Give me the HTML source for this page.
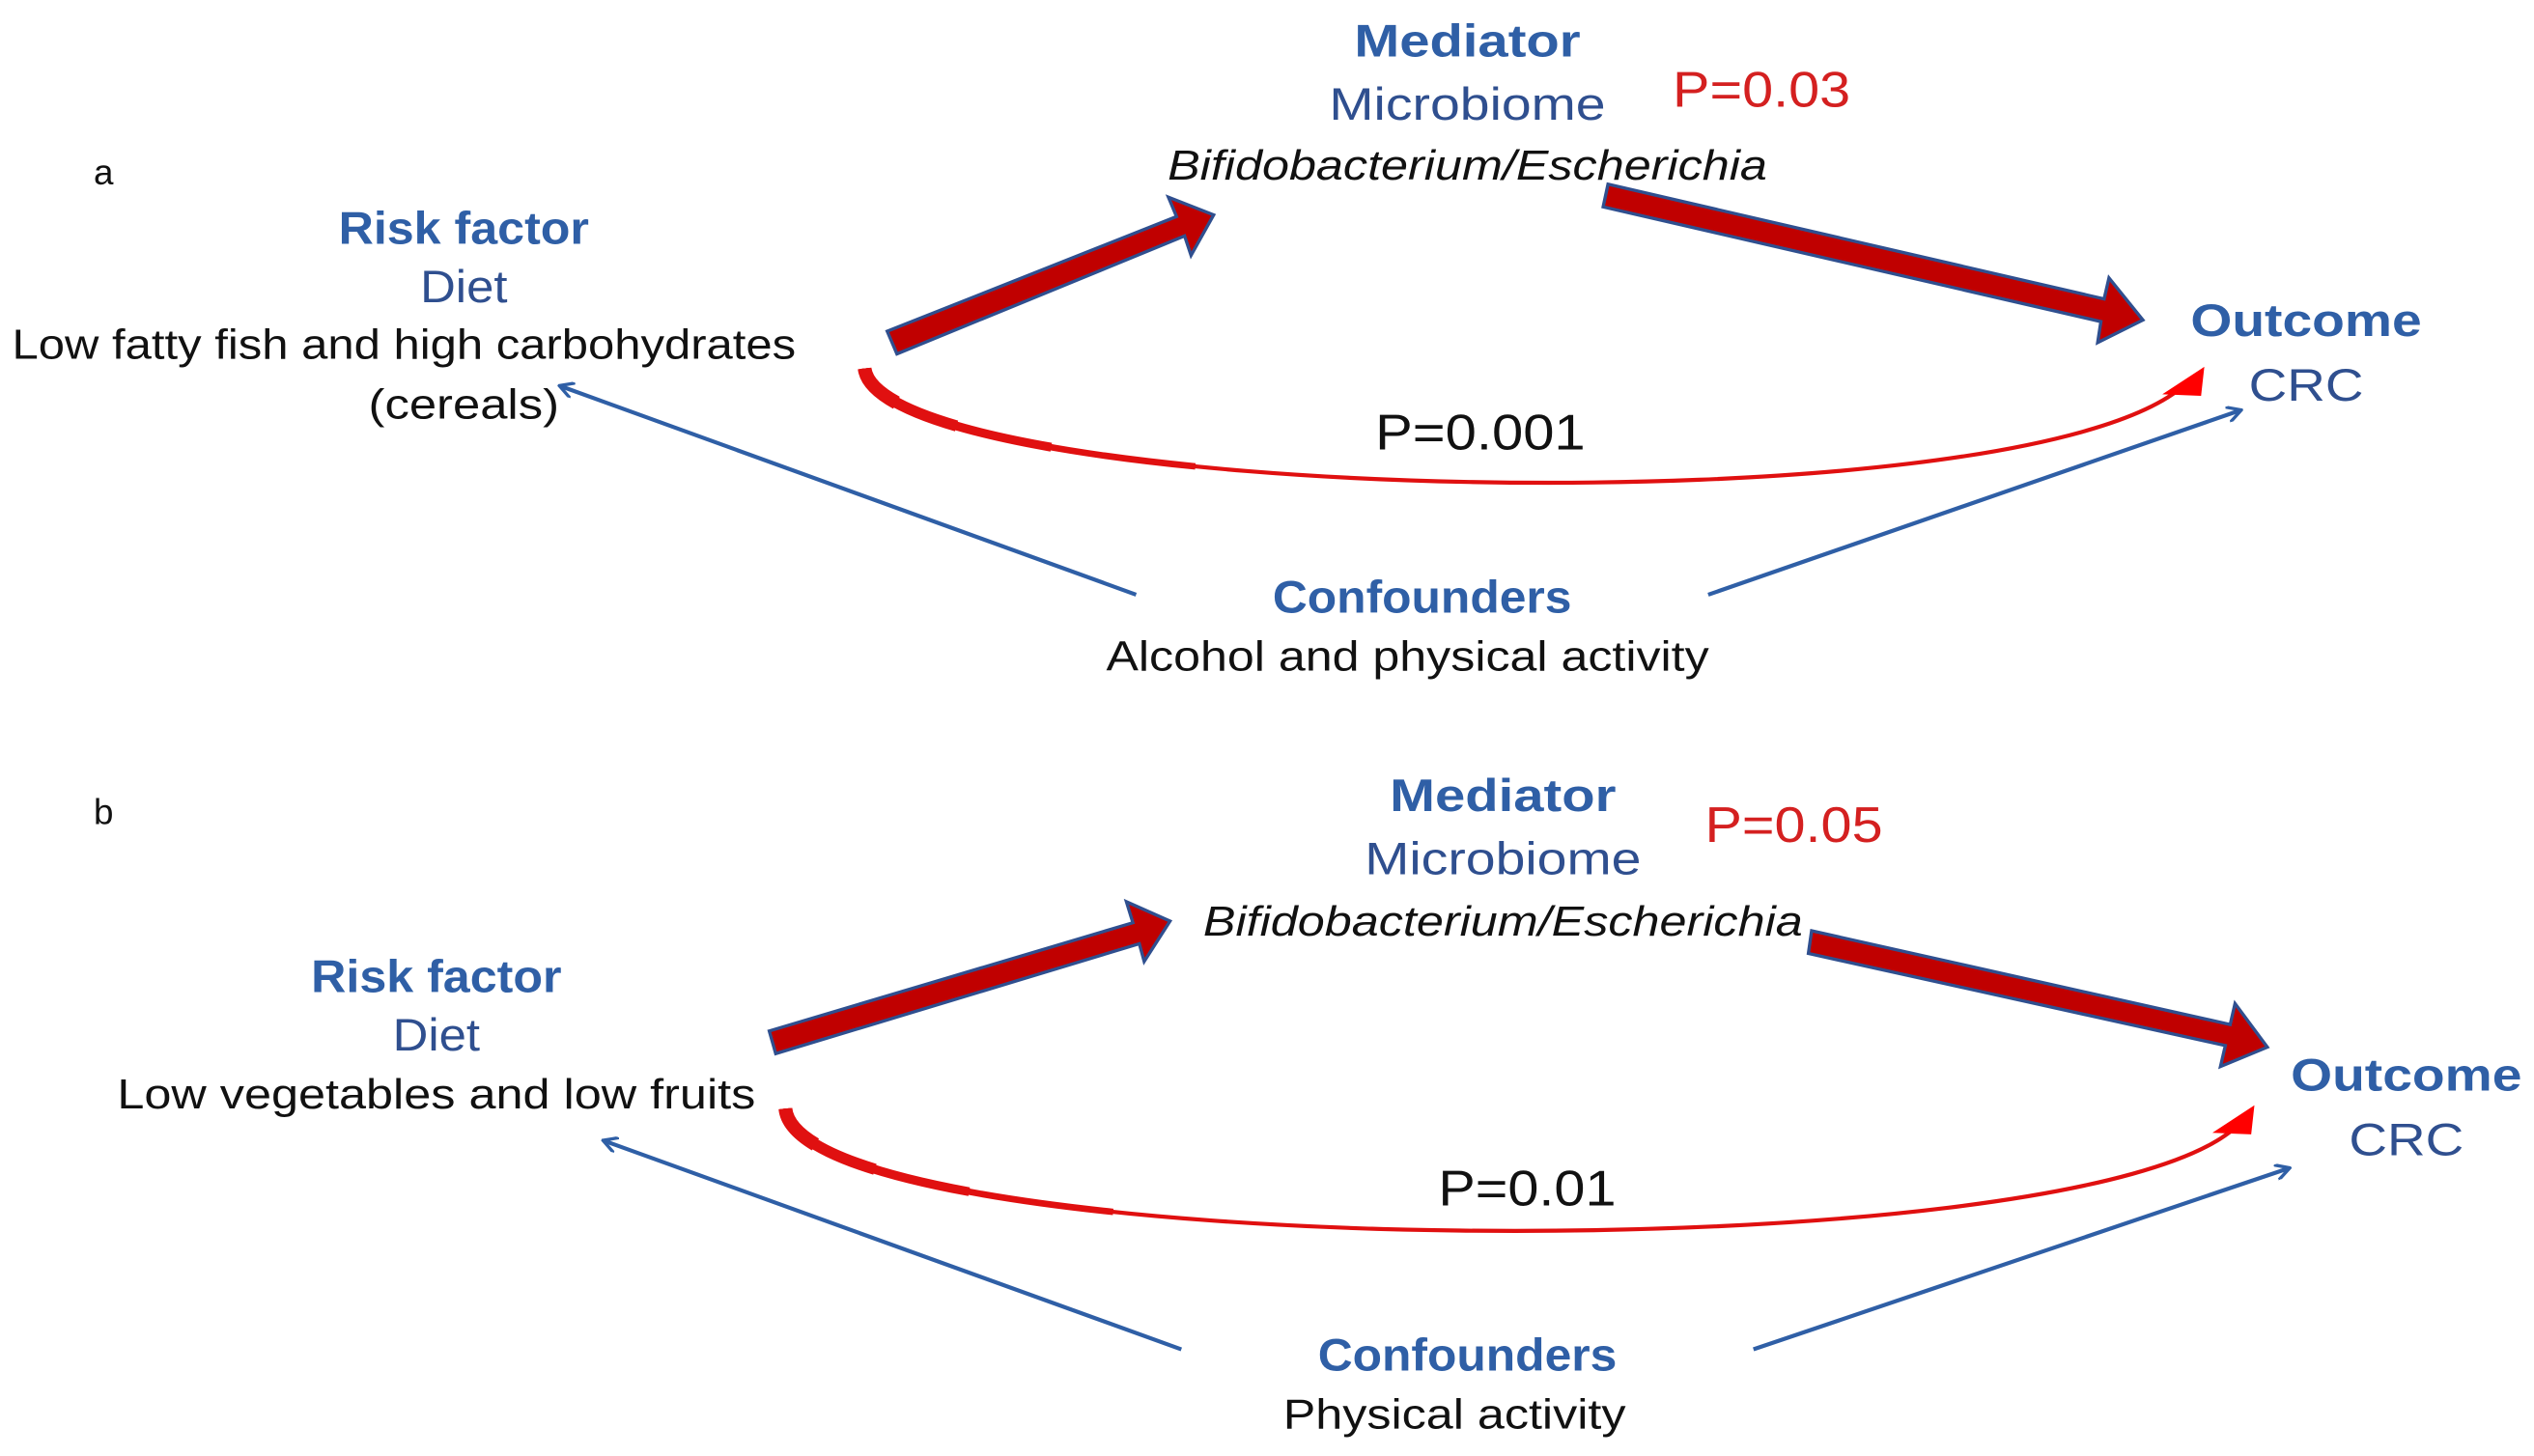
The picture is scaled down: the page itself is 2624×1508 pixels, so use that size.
<!DOCTYPE html>
<html><head><meta charset="utf-8"><style>
html,body{margin:0;padding:0;background:#fff;}
svg{display:block;}
text{font-family:"Liberation Sans",Arial,sans-serif;}
.b{fill:#2f5fa6;font-weight:bold;font-size:28px;text-anchor:middle;}
.m{fill:#2f4f8f;font-size:28px;text-anchor:middle;}
.k{fill:#111;font-size:26px;text-anchor:middle;}
.i{fill:#111;font-size:26px;font-style:italic;text-anchor:middle;}
.r{fill:#d42020;font-size:31px;}
.p{fill:#111;font-size:31px;text-anchor:middle;}
.c{fill:none;stroke:#e01010;}
</style></head><body>
<svg width="2624" height="1508" viewBox="0 0 1568 901" preserveAspectRatio="none" xmlns="http://www.w3.org/2000/svg">
<defs>
<marker id="bh" markerWidth="10" markerHeight="10" refX="8" refY="5" orient="auto" markerUnits="userSpaceOnUse" viewBox="0 0 10 10">
<path d="M0,0 L9,5 L0,10" fill="none" stroke="#2f5fa6" stroke-width="2"/></marker>
</defs>
<g id="a">
<text x="58" y="114" style="font-size:22px;fill:#111">a</text>
<text class="b" x="908" y="35" textLength="140" lengthAdjust="spacingAndGlyphs">Mediator</text>
<text class="m" x="908" y="74" textLength="171" lengthAdjust="spacingAndGlyphs">Microbiome</text>
<text class="i" x="908" y="111" textLength="371" lengthAdjust="spacingAndGlyphs">Bifidobacterium/Escherichia</text>
<text class="r" x="1035" y="66" textLength="110" lengthAdjust="spacingAndGlyphs">P=0.03</text>
<text class="b" x="287" y="151" textLength="155" lengthAdjust="spacingAndGlyphs">Risk factor</text>
<text class="m" x="287" y="187" textLength="54" lengthAdjust="spacingAndGlyphs">Diet</text>
<text class="k" x="250" y="222" textLength="485" lengthAdjust="spacingAndGlyphs">Low fatty fish and high carbohydrates</text>
<text class="k" x="287" y="259" textLength="118" lengthAdjust="spacingAndGlyphs">(cereals)</text>
<text class="b" x="1427" y="208" textLength="143" lengthAdjust="spacingAndGlyphs">Outcome</text>
<text class="m" x="1427" y="248" textLength="71" lengthAdjust="spacingAndGlyphs">CRC</text>
<text class="p" x="916" y="278" textLength="130" lengthAdjust="spacingAndGlyphs">P=0.001</text>
<text class="b" x="880" y="379" textLength="185" lengthAdjust="spacingAndGlyphs">Confounders</text>
<text class="k" x="871" y="415" textLength="373" lengthAdjust="spacingAndGlyphs">Alcohol and physical activity</text>
<polygon points="549,205 728,134 723,122 751,133 737,158 733,146 555,219" fill="#c00000" stroke="#2f4f8f" stroke-width="2"/>
<polygon points="995,114 1302,185 1305,172 1326,198 1298,212 1300,199 992,128" fill="#c00000" stroke="#2f4f8f" stroke-width="2"/>
<path class="c" d="M535,228 C545,310 1250,330 1352,238" stroke-width="2.5"/>
<path class="c" d="M535,228 C545,310 1250,330 1352,238" stroke-width="4" stroke-dasharray="220 3000"/>
<path class="c" d="M535,228 C545,310 1250,330 1352,238" stroke-width="5.5" stroke-dasharray="130 3000"/>
<path class="c" d="M535,228 C545,310 1250,330 1352,238" stroke-width="7" stroke-dasharray="70 3000"/>
<path class="c" d="M535,228 C545,310 1250,330 1352,238" stroke-width="8.5" stroke-dasharray="30 3000"/>
<polygon points="1364,227 1362,245 1338,244" fill="#f00"/>
<line x1="703" y1="368" x2="347" y2="239" stroke="#2f5fa6" stroke-width="2.5" marker-end="url(#bh)"/>
<line x1="1057" y1="368" x2="1386" y2="254" stroke="#2f5fa6" stroke-width="2.5" marker-end="url(#bh)"/>
</g>
<g id="b">
<text x="58" y="510" style="font-size:22px;fill:#111">b</text>
<text class="b" x="930" y="502" textLength="140" lengthAdjust="spacingAndGlyphs">Mediator</text>
<text class="m" x="930" y="541" textLength="171" lengthAdjust="spacingAndGlyphs">Microbiome</text>
<text class="i" x="930" y="579" textLength="371" lengthAdjust="spacingAndGlyphs">Bifidobacterium/Escherichia</text>
<text class="r" x="1055" y="521" textLength="110" lengthAdjust="spacingAndGlyphs">P=0.05</text>
<text class="b" x="270" y="614" textLength="155" lengthAdjust="spacingAndGlyphs">Risk factor</text>
<text class="m" x="270" y="650" textLength="54" lengthAdjust="spacingAndGlyphs">Diet</text>
<text class="k" x="270" y="686" textLength="395" lengthAdjust="spacingAndGlyphs">Low vegetables and low fruits</text>
<text class="b" x="1489" y="675" textLength="143" lengthAdjust="spacingAndGlyphs">Outcome</text>
<text class="m" x="1489" y="715" textLength="71" lengthAdjust="spacingAndGlyphs">CRC</text>
<text class="p" x="945" y="746" textLength="110" lengthAdjust="spacingAndGlyphs">P=0.01</text>
<text class="b" x="908" y="848" textLength="185" lengthAdjust="spacingAndGlyphs">Confounders</text>
<text class="k" x="900" y="884" textLength="212" lengthAdjust="spacingAndGlyphs">Physical activity</text>
<polygon points="476,638 701,571 697,558 724,570 708,595 705,584 480,652" fill="#c00000" stroke="#2f4f8f" stroke-width="2"/>
<polygon points="1121,576 1380,634 1383,621 1403,648 1374,660 1377,647 1119,590" fill="#c00000" stroke="#2f4f8f" stroke-width="2"/>
<path class="c" d="M486,686 C495,780 1290,790 1385,696" stroke-width="2.5"/>
<path class="c" d="M486,686 C495,780 1290,790 1385,696" stroke-width="4" stroke-dasharray="220 3000"/>
<path class="c" d="M486,686 C495,780 1290,790 1385,696" stroke-width="5.5" stroke-dasharray="130 3000"/>
<path class="c" d="M486,686 C495,780 1290,790 1385,696" stroke-width="7" stroke-dasharray="70 3000"/>
<path class="c" d="M486,686 C495,780 1290,790 1385,696" stroke-width="8.5" stroke-dasharray="30 3000"/>
<polygon points="1395,684 1393,702 1369,701" fill="#f00"/>
<line x1="731" y1="835" x2="374" y2="706" stroke="#2f5fa6" stroke-width="2.5" marker-end="url(#bh)"/>
<line x1="1085" y1="835" x2="1416" y2="723" stroke="#2f5fa6" stroke-width="2.5" marker-end="url(#bh)"/>
</g>
</svg>
</body></html>
